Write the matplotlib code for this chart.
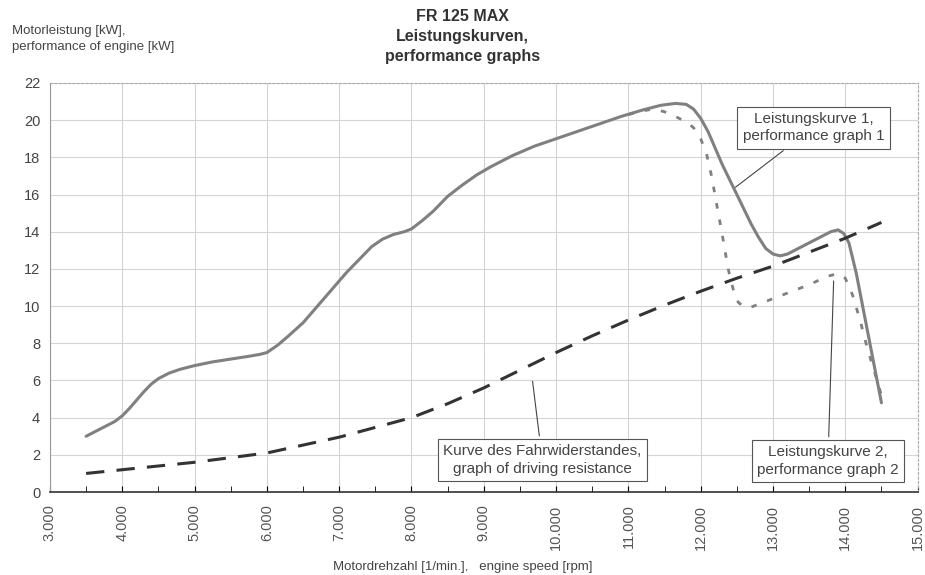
import matplotlib.pyplot as plt
from matplotlib import rcParams
from matplotlib.ticker import FuncFormatter, MultipleLocator

rcParams['font.family'] = ['Liberation Sans', 'DejaVu Sans']

# Leistungskurve 1 (solid)
rpm_1 = [3500, 3700, 3900, 4000, 4100, 4200, 4300, 4400, 4500, 4650, 4800, 5000,
         5250, 5500, 5750, 5900, 6000, 6150, 6300, 6500, 6700, 6900, 7100, 7300,
         7450, 7600, 7750, 7900, 8000, 8150, 8300, 8500, 8700, 8900, 9100, 9400,
         9700, 10000, 10300, 10600, 10900, 11200, 11450, 11650, 11800, 11900, 12000,
         12100, 12200, 12300, 12400, 12500, 12600, 12700, 12800, 12900, 13000, 13100,
         13200, 13350, 13500, 13650, 13800, 13900, 13980, 14050, 14150, 14250, 14350,
         14450, 14500]
kw_1 = [3.0, 3.4, 3.8, 4.1, 4.5, 4.95, 5.4, 5.8, 6.1, 6.4, 6.6, 6.8,
        7.0, 7.15, 7.3, 7.4, 7.5, 7.9, 8.4, 9.1, 10.0, 10.9, 11.8, 12.6,
        13.2, 13.6, 13.85, 14.0, 14.15, 14.6, 15.1, 15.9, 16.5, 17.05, 17.5, 18.1,
        18.6, 19.0, 19.4, 19.8, 20.2, 20.55, 20.8, 20.9, 20.85, 20.6, 20.1,
        19.4, 18.5, 17.6, 16.8, 16.0, 15.2, 14.4, 13.7, 13.1, 12.8, 12.7,
        12.8, 13.1, 13.4, 13.7, 14.0, 14.1, 13.9, 13.4, 11.8, 9.8, 7.8,
        5.8, 4.8]

# Leistungskurve 2 (dotted), only the part that leaves curve 1
rpm_2 = [11000, 11200, 11350, 11500, 11650, 11800, 11900, 12000, 12080, 12150,
         12220, 12300, 12380, 12450, 12520, 12600, 12700, 12900, 13100, 13300,
         13500, 13750, 13900, 14000, 14100, 14200, 14300, 14400, 14500]
kw_2 = [20.3, 20.5, 20.6, 20.45, 20.2, 19.9, 19.6, 19.0, 18.2, 17.0,
        15.5, 13.8, 12.0, 10.9, 10.2, 9.95, 9.95, 10.25, 10.55, 10.85,
        11.15, 11.6, 11.75, 11.5, 10.6, 9.3, 7.8, 6.5, 5.2]

# Fahrwiderstand (dashed)
rpm_r = [3500, 4000, 5000, 6000, 7000, 8000, 8500, 9000, 9500, 10000, 10500,
         11000, 11500, 12000, 12500, 13000, 13500, 14000, 14500]
kw_r = [1.0, 1.2, 1.6, 2.1, 2.95, 4.0, 4.75, 5.6, 6.55, 7.5, 8.4,
        9.25, 10.05, 10.8, 11.5, 12.15, 12.9, 13.65, 14.5]

fig = plt.figure(figsize=(9.25, 5.75), dpi=100)
ax = fig.add_axes([0.054, 0.1443, 0.938, 0.7114])

ax.plot(rpm_1, kw_1, color='#808080', lw=2.2, solid_capstyle='round', zorder=3)
ax.plot(rpm_2, kw_2, color='#808080', lw=2.0, dashes=(2, 4), zorder=3)
ax.plot(rpm_r, kw_r, color='#333333', lw=2.2, dashes=(6, 4), zorder=3)

ax.set_xlim(3000, 15000)
ax.set_ylim(0, 22)
ax.xaxis.set_major_locator(MultipleLocator(1000))
ax.xaxis.set_minor_locator(MultipleLocator(500))
ax.yaxis.set_major_locator(MultipleLocator(2))
ax.xaxis.set_major_formatter(FuncFormatter(lambda v, p: f'{int(v):,}'.replace(',', '.')))
ax.grid(True, color='#d4d4d4', lw=0.8)
ax.tick_params(axis='x', which='both', direction='in', length=4, labelrotation=90,
               labelsize=10.5, labelcolor='#555555', pad=9)
ax.tick_params(axis='y', direction='in', length=0, labelsize=10.5, labelcolor='#444444', pad=7)

for side in ['top', 'right']:
    ax.spines[side].set_linestyle((0, (2, 2)))
    ax.spines[side].set_color('#aaaaaa')
    ax.spines[side].set_linewidth(0.8)
ax.spines['left'].set_color('#999999')
ax.spines['bottom'].set_color('#333333')
ax.spines['bottom'].set_linewidth(1.2)

box = dict(boxstyle='square,pad=0.35', fc='white', ec='#555555', lw=0.8)
arrow = dict(arrowstyle='-', color='#444444', lw=0.8)
note = dict(ha='center', va='center', fontsize=11, color='#444444', linespacing=1.3,
            bbox=box, arrowprops=arrow, zorder=5)
ax.annotate('Leistungskurve 1,\nperformance graph 1', xy=(12450, 16.3), xytext=(13560, 19.6), **note)
ax.annotate('Leistungskurve 2,\nperformance graph 2', xy=(13840, 11.5), xytext=(13760, 1.67), **note)
ax.annotate('Kurve des Fahrwiderstandes,\ngraph of driving resistance', xy=(9670, 6.1),
            xytext=(9810, 1.72), **note)

fig.text(0.5, 0.985, 'FR 125 MAX\nLeistungskurven,\nperformance graphs', ha='center', va='top',
         fontsize=11.5, fontweight='bold', color='#333333', linespacing=1.45)
fig.text(0.013, 0.957, 'Motorleistung [kW],\nperformance of engine [kW]', ha='left', va='top',
         fontsize=9.5, color='#444444', linespacing=1.5)
fig.text(0.5, 0.004, 'Motordrehzahl [1/min.],   engine speed [rpm]', ha='center', va='bottom',
         fontsize=9.5, color='#444444')

fig.savefig('out.png', dpi=100)
